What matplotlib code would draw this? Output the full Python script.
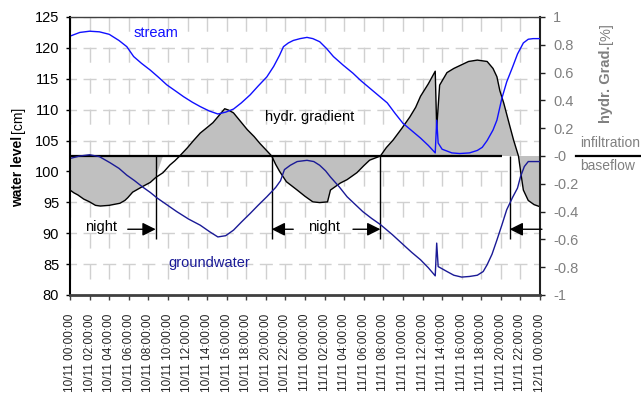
import numpy as np
import pandas as pd
import matplotlib
matplotlib.use('Agg')
import matplotlib.pyplot as plt
from matplotlib.lines import Line2D

plt.rcParams['font.family'] = ['Liberation Sans', 'DejaVu Sans']
plt.rcParams['font.size'] = 10.5
plt.rcParams['axes.unicode_minus'] = False

# hours since 10/11 00:00
stream_t = [0, 1, 2, 3, 4, 5, 5.8, 6.5, 7.3, 8.2, 9.0, 9.9, 10.8, 11.6, 12.5, 13.3, 14.2,
            15.1, 15.9, 16.7, 17.5, 18.4, 19.2, 20.1, 20.8, 21.4, 21.8, 22.3, 22.8, 23.5,
            24.2, 24.8, 25.5, 26.2, 26.9, 27.9, 28.9, 29.7, 30.6, 31.5, 32.4, 33.2, 34.0,
            34.9, 35.8, 36.6, 37.3, 37.45, 37.6, 38.0, 38.5, 39.0, 39.8, 40.8, 41.6, 42.1,
            42.6, 43.2, 43.6, 44.1, 44.6, 45.2, 45.7, 46.3, 46.8, 47.3, 48]
stream_cm = [121.9, 122.5, 122.7, 122.6, 122.2, 121.2, 120.2, 118.6, 117.5, 116.4, 115.3,
             114.0, 113.0, 112.1, 111.2, 110.5, 109.8, 109.3, 109.6, 110.1, 111.1, 112.4,
             113.8, 115.3, 117.0, 118.8, 120.2, 120.8, 121.2, 121.5, 121.7, 121.5, 121.0,
             119.9, 118.6, 117.2, 115.9, 114.7, 113.5, 112.3, 111.1, 109.4, 107.8, 106.6,
             105.4, 104.2, 103.0, 108.3, 104.6, 103.6, 103.3, 103.0, 102.9, 103.0, 103.4,
             103.9, 105.0, 106.7, 108.3, 111.8, 114.5, 116.9, 119.0, 120.8, 121.4, 121.5,
             121.5]

gw_t = [0, 1, 2, 3, 4.1, 5, 5.8, 6.6, 7.4, 8.2, 8.9, 9.9, 10.9, 12.1, 13.3, 14.3, 15.1,
        15.9, 16.7, 17.5, 18.4, 19.2, 20.1, 21.0, 21.5, 21.9, 22.5, 23.2, 24.2, 24.9, 25.5,
        26.1, 26.6, 27.5, 28.3, 29.1, 29.9, 30.8, 31.7, 32.9, 34.0, 34.9, 35.8, 36.6, 37.3,
        37.45, 37.6, 38.5, 39.2, 40.0, 40.8, 41.6, 42.2, 42.6, 43.1, 43.6, 44.1, 44.6, 45.2,
        45.7, 46.0, 46.4, 46.8, 48]
gw_cm = [102.1, 102.5, 102.7, 102.4, 101.4, 100.5, 99.4, 98.5, 97.5, 96.6, 95.7, 94.6, 93.5,
         92.3, 91.3, 90.2, 89.4, 89.6, 90.5, 91.8, 93.2, 94.5, 95.9, 97.4, 98.5, 100.3, 101.0,
         101.6, 101.8, 101.6, 101.0, 100.1, 99.1, 97.5, 95.9, 94.7, 93.5, 92.4, 91.4, 89.8,
         88.2, 86.9, 85.7, 84.4, 83.1, 88.4, 84.6, 83.8, 83.2, 82.9, 83.0, 83.2, 83.8, 84.9,
         86.6, 88.9, 91.3, 93.8, 95.8, 97.3, 99.1, 100.8, 101.6, 101.6]

grad_t = [0, 0.4, 0.8, 1.4, 2.0, 2.6, 3.1, 4.0, 5.1, 5.6, 5.9, 6.4, 6.9, 7.4, 8.2, 8.75,
          9.5, 10.2, 10.7, 11.2, 12.0, 12.6, 13.3, 14.0, 14.6, 15.2, 15.8, 16.2, 16.7, 17.4,
          18.1, 18.8, 19.4, 20.0, 20.6, 21.0, 21.4, 22.1, 23.2, 24.0, 24.8, 25.5, 26.3,
          26.6, 27.6, 28.3, 29.3, 30.0, 30.6, 31.7, 32.3, 33.0, 33.9, 34.7, 35.3, 35.8,
          36.6, 37.3, 37.45, 37.75, 38.5, 39.2, 39.8, 40.7, 41.6, 42.6, 43.2, 43.6, 43.9,
          44.3, 44.6, 44.9, 45.3, 45.8, 46.1, 46.3, 46.8, 47.4, 48]
grad_pct = [-0.245, -0.265, -0.28, -0.31, -0.33, -0.355, -0.36, -0.355, -0.34, -0.32, -0.30,
            -0.26, -0.24, -0.22, -0.19, -0.155, -0.12, -0.065, -0.035, 0.0, 0.06, 0.11,
            0.165, 0.205, 0.24, 0.29, 0.34, 0.33, 0.31, 0.25, 0.19, 0.14, 0.09, 0.045, 0.0,
            -0.06, -0.11, -0.185, -0.245, -0.29, -0.33, -0.335, -0.33, -0.245, -0.195, -0.17,
            -0.12, -0.07, -0.03, 0.0, 0.06, 0.115, 0.2, 0.28, 0.35, 0.43, 0.52, 0.61, 0.2,
            0.51, 0.6, 0.63, 0.65, 0.68, 0.69, 0.68, 0.63, 0.57, 0.47, 0.38, 0.3, 0.22, 0.115,
            0.0, -0.15, -0.245, -0.32, -0.35, -0.365]

night_edges = [8.75, 20.6, 31.7, 44.9]
night_spans = [(-1, 8.75), (20.6, 31.7), (44.9, 49)]
night_arrows = [(5.9, 8.75), (22.8, 20.6), (28.9, 31.7), (48.2, 44.9)]
night_text_t = [3.2, 25.9]
zero_line_t = [0, 44.1]

tick_hours = np.arange(0, 49, 2)
tick_labels = pd.date_range('2000-11-10', periods=len(tick_hours), freq='2h').strftime('%d/%m %H:%M:%S')

fig = plt.figure(figsize=(6.41, 3.96), dpi=100)
ax = fig.add_axes([70/641, 1-295/396, 470/641, 278/396])
ax2 = ax.twinx()
ax3 = ax.twinx()

# base axes: grid + ticks
ax.set_xlim(0, 48)
ax.set_ylim(80, 125)
ax.set_yticks(np.arange(80, 126, 5))
ax.set_xticks(tick_hours)
ax.set_xticklabels(tick_labels, rotation=90, color='#222222', fontsize=8.5)
ax.xaxis.grid(True, color='#d0d0d0', lw=1, linestyle=(10.8, (10.8, 11.5)))
ax.yaxis.grid(True, color='#d0d0d0', lw=1, linestyle=(4.7, (9.4, 4.7)))
ax.tick_params(axis='y', direction='out', length=3, width=1, pad=4.8, colors='black')
ax.tick_params(axis='x', direction='out', length=3.6, width=1, pad=10, color='#404040')
for s in ax.spines.values():
    s.set_visible(False)
ax.set_axisbelow(True)

# gradient on right axis
ax2.set_ylim(-1, 1)
ax2.set_yticks(np.arange(-1, 1.01, 0.2))
ax2.set_yticklabels(['%g' % round(v, 1) for v in np.arange(-1, 1.01, 0.2)])
ax2.tick_params(axis='y', direction='out', length=3.6, width=1, pad=5.8,
                color='#202020', labelcolor='#808080')
g = np.array(grad_pct)
tt = np.array(grad_t)
night = np.zeros_like(tt, dtype=bool)
for a, b in night_spans:
    night |= (tt >= a) & (tt <= b)
ax2.fill_between(tt, 0, g, where=(g >= 0) | night, color='#c0c0c0', lw=0, interpolate=True)
ax2.plot(tt, g, color='black', lw=1)
ax2.plot(zero_line_t, [0, 0], color='black', lw=1.6, solid_capstyle='butt')
ax2.vlines(night_edges, -0.6, 0, color='black', lw=1)
for tail, tip in night_arrows:
    ax2.annotate('', xy=(tip, -0.527), xytext=(tail, -0.527), annotation_clip=False,
                 arrowprops=dict(arrowstyle='-|>,head_length=0.8,head_width=0.4', color='black',
                                 lw=1, shrinkA=0, shrinkB=0, mutation_scale=10))
for nt in night_text_t:
    ax2.text(nt, -0.51, 'night', ha='center', va='center', fontsize=10.5)
for name, s in ax2.spines.items():
    s.set_visible(name == 'right')
ax2.spines['right'].set_linewidth(1.5)
ax2.spines['right'].set_color('#202020')

# water levels
ax3.set_ylim(80, 125)
ax3.plot(stream_t, stream_cm, color='#1010ff', lw=1)
ax3.plot(gw_t, gw_cm, color='#1a1a96', lw=1)
ax3.text(8.8, 122.4, 'stream', color='#1010ff', ha='center', va='center', fontsize=10.5)
ax3.text(24.5, 108.8, 'hydr. gradient', color='black', ha='center', va='center', fontsize=10.5)
ax3.text(14.2, 85.2, 'groundwater', color='#1a1a96', ha='center', va='center', fontsize=10.5)
ax3.yaxis.set_visible(False)
ax3.spines['right'].set_visible(False)
ax3.spines['left'].set_linewidth(1.5)
ax3.spines['left'].set_color('black')
ax3.spines['top'].set_linewidth(1)
ax3.spines['top'].set_color('#404040')
ax3.spines['bottom'].set_linewidth(2)
ax3.spines['bottom'].set_color('#404040')

# axis titles
fig.text(18/641, 1-207/396, 'water level', rotation=90, ha='center', va='bottom',
         fontsize=10, fontweight='bold')
fig.text(18/641, 1-133/396, '[cm]', rotation=90, ha='center', va='bottom', fontsize=10)
fig.text(606/641, 1-123/396, 'hydr. Grad.', rotation=90, ha='center', va='bottom',
         fontsize=10.5, fontweight='bold', color='#808080')
fig.text(606/641, 1-44/396, '[%]', rotation=90, ha='center', va='bottom',
         fontsize=10.5, color='#808080')

# infiltration / baseflow marker
fig.text(580/641, 1-143/396, 'infiltration', ha='left', va='center', fontsize=10, color='#808080')
fig.text(580/641, 1-166/396, 'baseflow', ha='left', va='center', fontsize=10, color='#808080')
fig.add_artist(Line2D([576/641, 1.0], [1-155.5/396, 1-155.5/396], color='black', lw=1.6,
                      transform=fig.transFigure))

fig.savefig('out.png', dpi=100)
